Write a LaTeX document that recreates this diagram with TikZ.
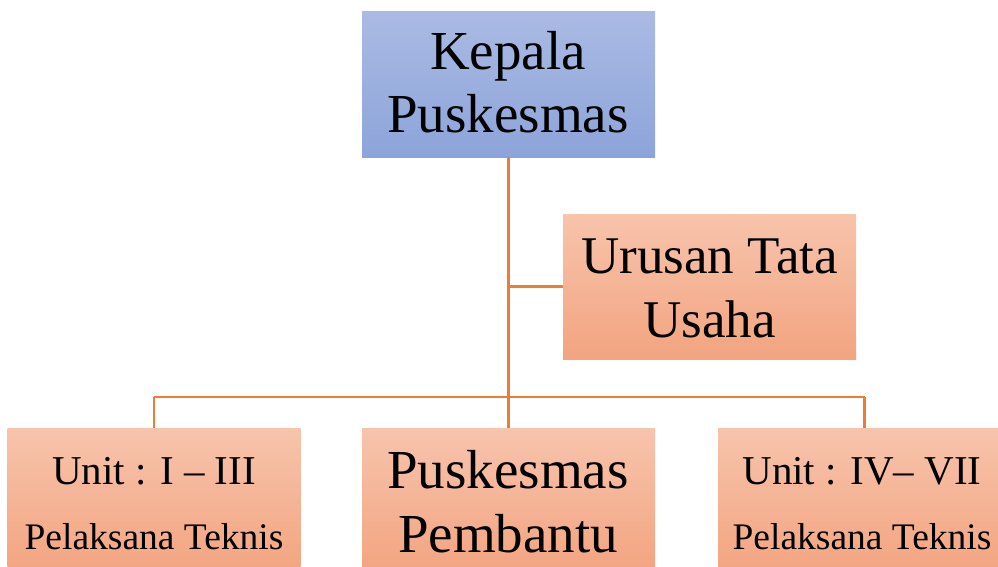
\documentclass[tikz,border=0pt]{standalone}
\usepackage{fontspec}
\setmainfont{Liberation Serif}
\begin{document}
\begin{tikzpicture}[x=1pt,y=-1pt,
  bluebox/.style={rectangle,draw=none,top color=blueTop,bottom color=blueBot,minimum width=293pt,minimum height=145pt,inner sep=0pt},
  salbox/.style={rectangle,draw=none,top color=salTop,bottom color=salBot,minimum width=293pt,minimum height=145pt,inner sep=0pt},
  conn/.style={draw=lineOrange,line width=2.6pt},
  big/.style={anchor=base,inner sep=0pt,font=\fontsize{55}{60}\selectfont},
  mid/.style={anchor=base,inner sep=0pt,font=\fontsize{53}{60}\selectfont},
  unitt/.style={anchor=base,inner sep=0pt,font=\fontsize{41}{46}\selectfont},
  pelt/.style={anchor=base,inner sep=0pt,font=\fontsize{37.5}{40}\selectfont}]
\definecolor{blueTop}{RGB}{170,186,227}
\definecolor{blueBot}{RGB}{141,164,218}
\definecolor{salTop}{RGB}{247,196,172}
\definecolor{salBot}{RGB}{243,164,128}
\definecolor{lineOrange}{RGB}{237,125,49}
\useasboundingbox (0,0) rectangle (998,567);
\clip (0,0) rectangle (998,567);
% boxes
\node[bluebox] (kepala) at (508.5,84.5) {};
\node[salbox] (urusan) at (709.5,286.5) {};
\node[salbox] (unitA) at (154,500.5) {};
\node[salbox] (pemb) at (508.5,500.5) {};
\node[salbox] (unitB) at (864.5,500.5) {};
% connectors
\coordinate (branch) at (kepala.south |- urusan.west);
\coordinate (barmid) at (kepala.south |- 0,397);
\coordinate (barL) at (unitA.north |- 0,397);
\coordinate (barR) at (unitB.north |- 0,397);
\draw[conn] (kepala.south) -- (barmid);
\draw[conn] (branch) -- (urusan.west);
\draw[conn] (barL) -- (barR);
\draw[conn] (barL) -- (unitA.north);
\draw[conn] (barmid) -- (pemb.north);
\draw[conn] (barR) -- (unitB.north);
% texts
\node[big] (t1) at (508,70) {Kepala};
\node[big] (t2) at (508,132) {Puskesmas};
\node[mid] (t3) at (709.5,273) {Urusan Tata};
\node[mid] (t4) at (709.5,337) {Usaha};
\node[unitt] (t5) at (154,484) {Unit : I – III};
\node[pelt] (t6) at (154,549) {Pelaksana Teknis};
\node[big] (t7) at (508,488) {Puskesmas};
\node[big] (t8) at (508,552) {Pembantu};
\node[unitt] (t9) at (862,484) {Unit : IV– VII};
\node[pelt] (t10) at (862,549) {Pelaksana Teknis};
\end{tikzpicture}
\end{document}
